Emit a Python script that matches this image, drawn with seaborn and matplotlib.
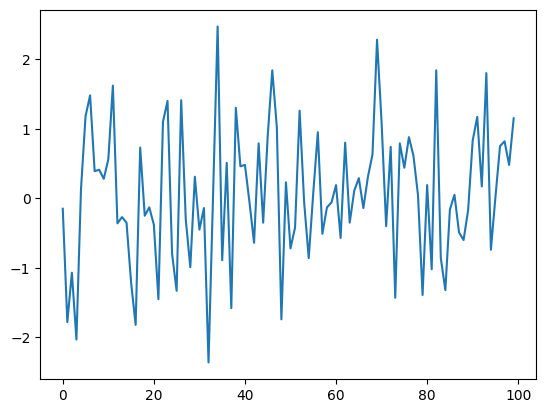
import numpy as np
import pandas as pd
import matplotlib
matplotlib.use("Agg")
import matplotlib.pyplot as plt
import seaborn as sns

# values, one per integer step 0..99
values = [
    -0.15, -1.78, -1.07, -2.03, 0.13, 1.18, 1.48, 0.39, 0.41, 0.28,
    0.56, 1.62, -0.36, -0.27, -0.35, -1.21, -1.82, 0.73, -0.25, -0.13,
    -0.38, -1.45, 1.10, 1.40, -0.80, -1.33, 1.41, -0.30, -0.99, 0.31,
    -0.45, -0.14, -2.36, 0.05, 2.47, -0.89, 0.51, -1.58, 1.30, 0.46,
    0.48, -0.06, -0.64, 0.79, -0.35, 0.90, 1.84, 1.02, -1.74, 0.23,
    -0.72, -0.42, 1.26, -0.06, -0.86, 0.08, 0.95, -0.51, -0.13, -0.06,
    0.19, -0.57, 0.80, -0.35, 0.11, 0.29, -0.14, 0.31, 0.63, 2.28,
    1.09, -0.40, 0.74, -1.43, 0.79, 0.44, 0.88, 0.61, 0.04, -1.39,
    0.19, -1.02, 1.84, -0.86, -1.32, -0.16, 0.05, -0.49, -0.60, -0.17,
    0.83, 1.17, 0.17, 1.80, -0.74, 0.02, 0.75, 0.82, 0.48, 1.15,
]
steps = list(range(len(values)))

df = pd.DataFrame({"x": steps, "y": values})

fig, ax = plt.subplots(figsize=(6.4, 4.8), dpi=100)
sns.lineplot(data=df, x="x", y="y", ax=ax, color="#1f77b4", linewidth=1.5)
ax.set_xlabel("")
ax.set_ylabel("")

plt.savefig("out.png", dpi=100, bbox_inches="tight")
